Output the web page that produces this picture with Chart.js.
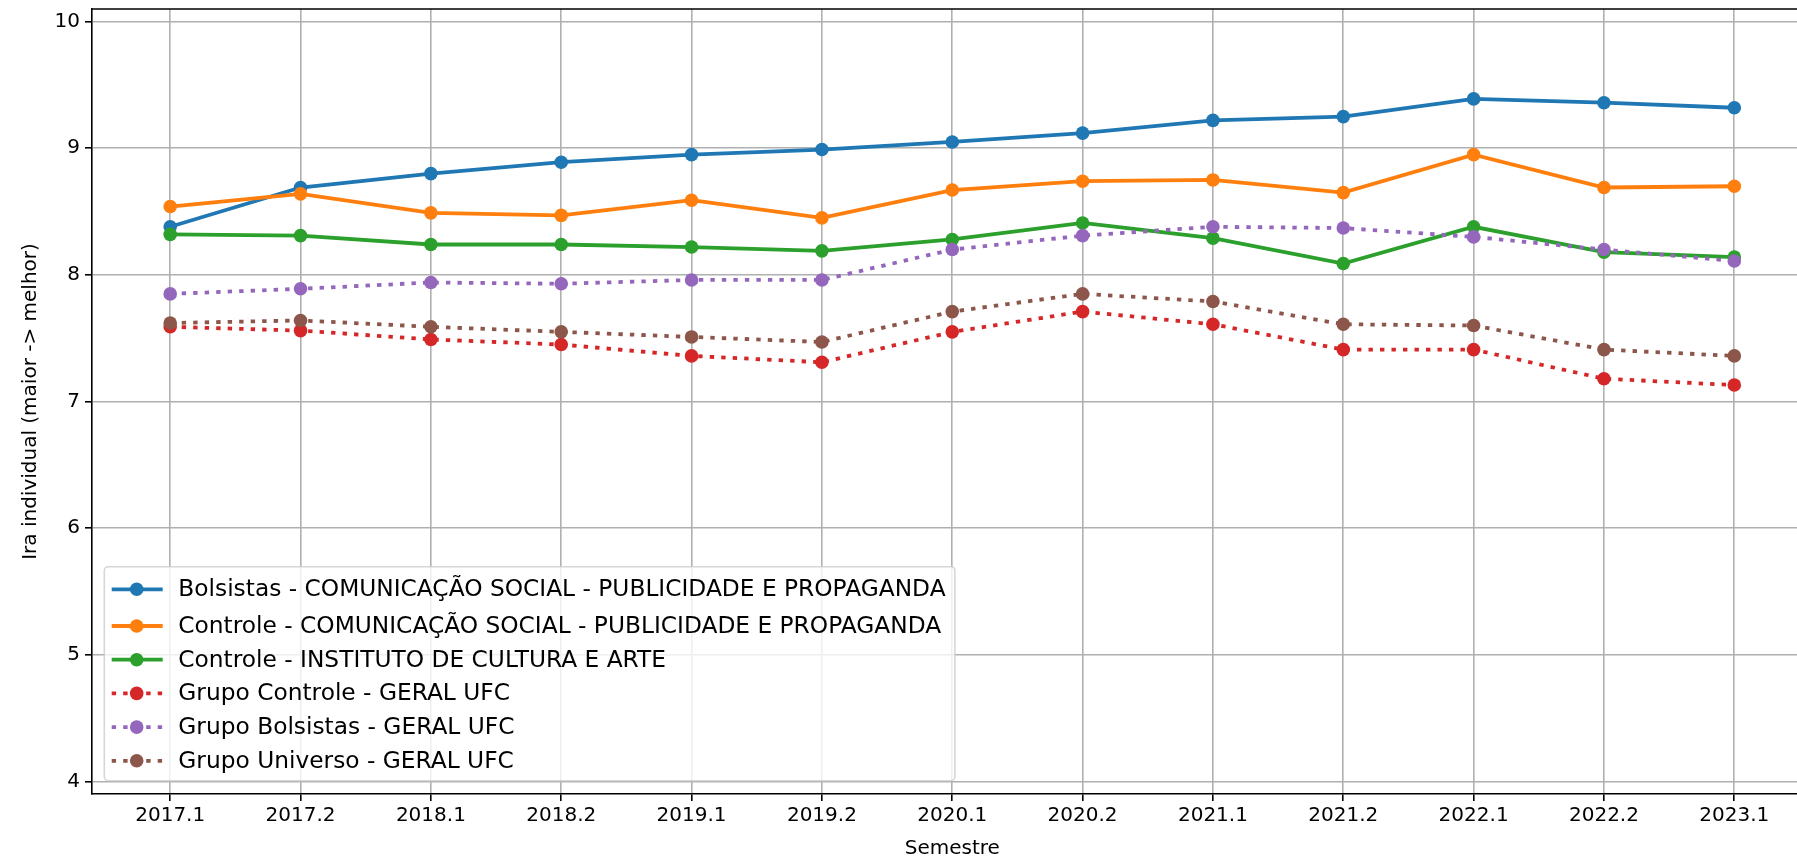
<!DOCTYPE html>
<html>
<head>
<meta charset="utf-8">
<script src="https://cdn.jsdelivr.net/npm/chart.js@4/dist/chart.umd.min.js"></script>
<style>
  html, body { margin: 0; padding: 0; background: #fff; overflow: hidden; }
  #wrap { width: 1830px; height: 859px; }
</style>
</head>
<body>
<div id="wrap"><canvas id="iraChart" width="1830" height="859"></canvas></div>
<script>
// semestres (eixo x)
const semestres = ['2017.1', '2017.2', '2018.1', '2018.2', '2019.1', '2019.2', '2020.1',
                   '2020.2', '2021.1', '2021.2', '2022.1', '2022.2', '2023.1'];

const yTicks = [4, 5, 6, 7, 8, 9, 10];

// IRA médio por semestre
const bolsistasCurso = [8.38, 8.69, 8.80, 8.89, 8.95, 8.99, 9.05, 9.12, 9.22, 9.25, 9.39, 9.36, 9.32];
const controleCurso  = [8.54, 8.64, 8.49, 8.47, 8.59, 8.45, 8.67, 8.74, 8.75, 8.65, 8.95, 8.69, 8.70];
const controleICA    = [8.32, 8.31, 8.24, 8.24, 8.22, 8.19, 8.28, 8.41, 8.29, 8.09, 8.38, 8.18, 8.14];
const controleUFC    = [7.59, 7.56, 7.49, 7.45, 7.36, 7.31, 7.55, 7.71, 7.61, 7.41, 7.41, 7.18, 7.13];
const bolsistasUFC   = [7.85, 7.89, 7.94, 7.93, 7.96, 7.96, 8.20, 8.31, 8.38, 8.37, 8.30, 8.20, 8.11];
const universoUFC    = [7.62, 7.64, 7.59, 7.55, 7.51, 7.47, 7.71, 7.85, 7.79, 7.61, 7.60, 7.41, 7.36];

const FONT = 'DejaVu Sans';
const DOTS = [4.4, 7.1];

function serie(label, valores, cor, pontilhado, i) {
  return {
    label: label,
    data: valores.map((v, k) => ({ x: k, y: v })),
    borderColor: cor,
    backgroundColor: cor,
    borderWidth: 3.8,
    borderDash: pontilhado ? DOTS : [],
    borderCapStyle: 'butt',
    pointRadius: 6.8,
    pointHoverRadius: 6.8,
    pointBorderWidth: 0,
    pointBackgroundColor: cor,
    tension: 0,
    order: 5 - i  // o último desenhado por cima, como no matplotlib
  };
}

const datasets = [
  serie('Bolsistas - COMUNICAÇÃO SOCIAL - PUBLICIDADE E PROPAGANDA', bolsistasCurso, '#1f77b4', false, 0),
  serie('Controle - COMUNICAÇÃO SOCIAL - PUBLICIDADE E PROPAGANDA', controleCurso, '#ff7f0e', false, 1),
  serie('Controle - INSTITUTO DE CULTURA E ARTE', controleICA, '#2ca02c', false, 2),
  serie('Grupo Controle - GERAL UFC', controleUFC, '#d62728', true, 3),
  serie('Grupo Bolsistas - GERAL UFC', bolsistasUFC, '#9467bd', true, 4),
  serie('Grupo Universo - GERAL UFC', universoUFC, '#8c564b', true, 5)
];

// moldura + legenda no canto inferior esquerdo
const boxLegend = {
  id: 'boxLegend',
  afterDatasetsDraw(chart) {
    const ctx = chart.ctx;
    const ca = chart.chartArea;
    ctx.save();
    ctx.strokeStyle = '#000';
    ctx.lineWidth = 1.6;
    ctx.beginPath();
    ctx.moveTo(ca.left, ca.top);
    ctx.lineTo(ca.right, ca.top);
    ctx.stroke();

    ctx.font = '23.3px "' + FONT + '"';
    const sets = chart.data.datasets;
    let maxW = 0;
    sets.forEach(d => { maxW = Math.max(maxW, ctx.measureText(d.label).width); });
    const left = ca.left + 12.3;
    const bottom = ca.bottom - 13.3;
    const top = bottom - 214;
    const width = 74 + maxW + 9.3;
    ctx.fillStyle = 'rgba(255,255,255,0.8)';
    ctx.strokeStyle = 'rgba(204,204,204,0.8)';
    ctx.lineWidth = 1.6;
    ctx.beginPath();
    ctx.roundRect(left, top, width, bottom - top, 4);
    ctx.fill();
    ctx.stroke();

    let y = top + 22.6;
    sets.forEach((d, i) => {
      if (i === 1) y += 3;
      ctx.strokeStyle = d.borderColor;
      ctx.lineWidth = d.borderWidth;
      ctx.lineCap = 'butt';
      ctx.setLineDash(d.borderDash);
      ctx.beginPath();
      ctx.moveTo(left + 7.4, y);
      ctx.lineTo(left + 58.4, y);
      ctx.stroke();
      ctx.setLineDash([]);
      ctx.fillStyle = d.borderColor;
      ctx.beginPath();
      ctx.arc(left + 32.4, y, d.pointRadius, 0, Math.PI * 2);
      ctx.fill();
      ctx.fillStyle = '#000';
      ctx.textBaseline = 'middle';
      ctx.fillText(d.label, left + 74, y + 1);
      y += 33.7;
    });
    ctx.restore();
  }
};

new Chart(document.getElementById('iraChart'), {
  type: 'line',
  data: { datasets: datasets },
  options: {
    responsive: false,
    animation: false,
    events: [],
    layout: { padding: { top: 9, right: 17.5, left: 0, bottom: 0 } },
    plugins: {
      legend: { display: false },
      tooltip: { enabled: false }
    },
    scales: {
      x: {
        type: 'linear',
        min: -0.6,
        max: 12.6,
        afterBuildTicks: s => { s.ticks = semestres.map((_, k) => ({ value: k })); },
        afterFit: s => { s.height = 65; s.paddingLeft = 0; s.paddingRight = 0; },
        ticks: {
          callback: v => semestres[v],
          autoSkip: false,
          maxRotation: 0,
          padding: 3,
          color: '#000',
          font: { family: FONT, size: 20 }
        },
        grid: { color: '#b0b0b0', lineWidth: 1.6, tickLength: 7, tickColor: '#000', tickWidth: 1.6 },
        border: { color: '#000', width: 1.6 },
        title: {
          display: true,
          text: 'Semestre',
          color: '#000',
          font: { family: FONT, size: 20, lineHeight: 1 },
          padding: { top: 0, bottom: 0 }
        }
      },
      y: {
        min: 3.9,
        max: 10.1,
        afterBuildTicks: s => { s.ticks = yTicks.map(v => ({ value: v })); },
        afterFit: s => { s.width = 92; s.paddingTop = 0; s.paddingBottom = 0; },
        ticks: {
          padding: 5,
          color: '#000',
          font: { family: FONT, size: 20 }
        },
        grid: { color: '#b0b0b0', lineWidth: 1.6, tickLength: 7, tickColor: '#000', tickWidth: 1.6 },
        border: { color: '#000', width: 1.6 },
        title: {
          display: true,
          text: 'Ira individual (maior -> melhor)',
          color: '#000',
          font: { family: FONT, size: 20, lineHeight: 1 },
          padding: { top: 21, bottom: 0 }
        }
      }
    }
  },
  plugins: [boxLegend]
});
</script>
</body>
</html>
